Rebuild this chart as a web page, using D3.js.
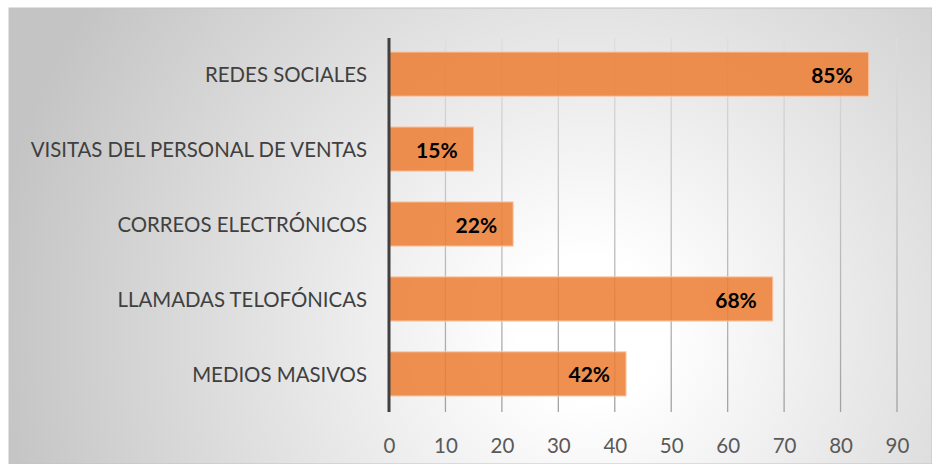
<!DOCTYPE html>
<html>
<head>
<meta charset="utf-8">
<script src="https://cdn.jsdelivr.net/npm/d3@7"></script>
<style>
  body { margin: 0; background: #fff; }
  text { font-family: Lato, "Noto Sans", sans-serif; }
</style>
</head>
<body>
<div id="chart"></div>
<script>
// datos
const canales = ["REDES SOCIALES", "VISITAS DEL PERSONAL DE VENTAS", "CORREOS ELECTRÓNICOS",
                 "LLAMADAS TELOFÓNICAS", "MEDIOS MASIVOS"];
const porcentajes = [85, 15, 22, 68, 42];
const ticks = [0, 10, 20, 30, 40, 50, 60, 70, 80, 90];

const W = 932, H = 464;
const margin = {top: 38, right: 35, bottom: 52, left: 389};

const svg = d3.select("#chart").append("svg")
    .attr("width", W).attr("height", H);

const defs = svg.append("defs");
const bg = defs.append("radialGradient")
    .attr("id", "bg").attr("gradientUnits", "userSpaceOnUse")
    .attr("cx", 590).attr("cy", 330).attr("r", 600);
bg.append("stop").attr("offset", "0").attr("stop-color", "#ffffff");
bg.append("stop").attr("offset", "0.12").attr("stop-color", "#ffffff");
bg.append("stop").attr("offset", "1").attr("stop-color", "#c4c4c4");

const gl = defs.append("linearGradient")
    .attr("id", "grid").attr("gradientUnits", "userSpaceOnUse")
    .attr("x1", 0).attr("y1", margin.top).attr("x2", 0).attr("y2", H - margin.bottom);
gl.append("stop").attr("offset", "0").attr("stop-color", "#dedede");
gl.append("stop").attr("offset", "1").attr("stop-color", "#a2a2a2");

// fondo
svg.append("rect")
    .attr("x", 9).attr("y", 8).attr("width", W - 9).attr("height", H - 8)
    .attr("fill", "url(#bg)").attr("stroke", "#c3c3c3").attr("stroke-width", 1);

const x = d3.scaleLinear().domain([0, 90]).range([margin.left, W - margin.right]);
const y = d3.scaleBand().domain(canales)
    .range([margin.top, H - margin.bottom]).paddingInner(0.41).paddingOuter(0.2);

// lineas de cuadricula
svg.append("g").selectAll("line")
    .data(ticks.slice(1)).enter().append("line")
    .attr("x1", d => x(d)).attr("x2", d => x(d))
    .attr("y1", margin.top).attr("y2", H - margin.bottom)
    .attr("stroke", "url(#grid)").attr("stroke-width", 1.3);

// barras
svg.append("g").selectAll("rect")
    .data(porcentajes).enter().append("rect")
    .attr("x", x(0))
    .attr("y", (d, i) => y(canales[i]) - 1)
    .attr("width", d => x(d) - x(0))
    .attr("height", y.bandwidth())
    .attr("fill", "#ed7d31").attr("fill-opacity", 0.85)
    .attr("stroke", "#f8cbad").attr("stroke-width", 1);

// etiquetas de datos
svg.append("g").selectAll("text")
    .data(porcentajes).enter().append("text")
    .attr("x", d => x(d) - 16)
    .attr("y", (d, i) => y(canales[i]) + y.bandwidth() / 2)
    .attr("dy", "0.36em")
    .attr("text-anchor", "end")
    .attr("font-size", 21).attr("font-weight", "bold").attr("fill", "#000")
    .text(d => d + "%");

// eje vertical
svg.append("line")
    .attr("x1", x(0)).attr("x2", x(0))
    .attr("y1", margin.top).attr("y2", H - margin.bottom)
    .attr("stroke", "#404040").attr("stroke-width", 3);

// categorias
svg.append("g").selectAll("text")
    .data(canales).enter().append("text")
    .attr("x", 367)
    .attr("y", d => y(d) + y.bandwidth() / 2)
    .attr("dy", "0.36em")
    .attr("text-anchor", "end")
    .attr("font-size", 20.4).attr("fill", "#404040")
    .text(d => d);

// etiquetas del eje x
const xAxis = svg.append("g")
    .attr("transform", `translate(0,${H - margin.bottom})`)
    .call(d3.axisBottom(x).tickValues(ticks).tickSize(0).tickPadding(26));
xAxis.select(".domain").remove();
xAxis.selectAll("text")
    .attr("font-size", 20.5).attr("fill", "#595959")
    .style("font-family", "Lato, 'Noto Sans', sans-serif");
</script>
</body>
</html>
